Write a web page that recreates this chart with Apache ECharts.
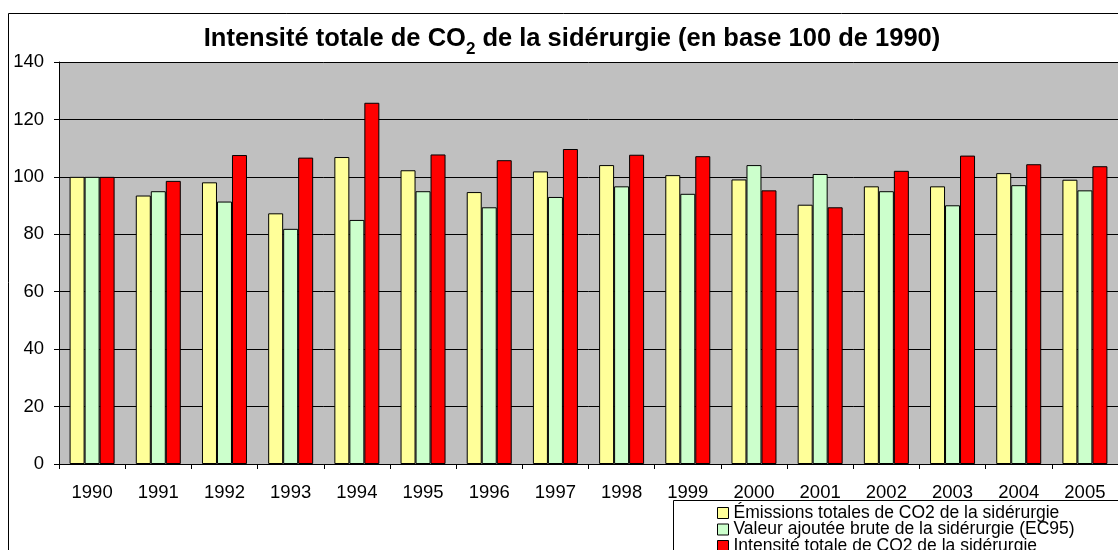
<!DOCTYPE html>
<html>
<head>
<meta charset="utf-8">
<script src="https://cdn.jsdelivr.net/npm/echarts@6/dist/echarts.min.js"></script>
<style>
html,body{margin:0;padding:0;background:#fff;}
#chart{width:1118px;height:550px;}
</style>
</head>
<body>
<div id="chart"></div>
<script>
var years = ['1990','1991','1992','1993','1994','1995','1996','1997','1998','1999','2000','2001','2002','2003','2004','2005'];
var emissions = [100, 93.5, 98.1, 87.3, 106.9, 102.3, 94.7, 101.9, 104.1, 100.6, 99.1, 90.3, 96.7, 96.7, 101.3, 99.0];
var valeurAjoutee = [100, 95.0, 91.4, 81.9, 85.0, 95.0, 89.4, 93.0, 96.7, 94.1, 104.1, 101.0, 95.0, 90.1, 97.1, 95.3];
var intensite = [100, 98.6, 107.6, 106.7, 125.8, 107.8, 105.8, 109.7, 107.7, 107.2, 95.3, 89.4, 102.1, 107.4, 104.4, 103.7];
var seriesNames = ['Émissions totales de CO2 de la sidérurgie', 'Valeur ajoutée brute de la sidérurgie (EC95)', 'Intensité totale de CO2 de la sidérurgie'];
var yTicks = {min: 0, max: 140, interval: 20};

var FONT = 'Arial, "Liberation Sans", sans-serif';
var chart = echarts.init(document.getElementById('chart'), null, {renderer: 'canvas'});
function bar(name, data, color) {
  return {
    name: name, type: 'bar', data: data, barWidth: 15, barGap: '0%',
    itemStyle: {color: color, borderColor: '#000', borderWidth: 1},
    emphasis: {disabled: true}, animation: false
  };
}
chart.setOption({
  backgroundColor: '#fff',
  animation: false,
  textStyle: {fontFamily: FONT},
  grid: {left: 59, top: 62, right: -13, bottom: 86, show: true, backgroundColor: '#C0C0C0', borderWidth: 0},
  xAxis: {
    type: 'category', data: years, boundaryGap: true,
    axisLine: {show: true, lineStyle: {color: '#000', width: 1}},
    axisTick: {show: true, length: 5, lineStyle: {color: '#000'}},
    axisLabel: {color: '#000', fontSize: 18.5, fontFamily: FONT, margin: 19, interval: 0}
  },
  yAxis: {
    type: 'value', min: yTicks.min, max: yTicks.max, interval: yTicks.interval,
    axisLine: {show: true, lineStyle: {color: '#000', width: 1}},
    axisTick: {show: true, length: 5, lineStyle: {color: '#000'}},
    axisLabel: {color: '#000', fontSize: 18.5, fontFamily: FONT, margin: 15},
    splitLine: {show: true, lineStyle: {color: '#000', width: 1}}
  },
  legend: {
    orient: 'vertical', left: 717, top: 504, height: 300, itemWidth: 11, itemHeight: 11, itemGap: -1.5,
    icon: 'rect', z: 5, padding: 0,
    itemStyle: {borderColor: '#000', borderWidth: 1},
    textStyle: {color: '#000', fontSize: 17.5, fontFamily: FONT, lineHeight: 15.5},
    selectedMode: false,
    data: seriesNames
  },
  graphic: [
    {type: 'rect', z: 0, silent: true, shape: {x: 8.5, y: 13.5, width: 1200, height: 600},
     style: {fill: null, stroke: '#000', lineWidth: 1}},
    {type: 'rect', z: 3, silent: true, shape: {x: 673.5, y: 500.5, width: 500, height: 100},
     style: {fill: '#fff', stroke: '#000', lineWidth: 1}},
    {type: 'text', z: 3, silent: true, x: 572, y: 39,
     style: {
       text: '{a|Intensité totale de CO}{s|2}{a| de la sidérurgie (en base 100 de 1990)}',
       align: 'center', verticalAlign: 'middle',
       rich: {
         a: {fontSize: 25.5, fontWeight: 'bold', fontFamily: FONT, fill: '#000', lineHeight: 27, verticalAlign: 'top'},
         s: {fontSize: 17, fontWeight: 'bold', fontFamily: FONT, fill: '#000', lineHeight: 17, verticalAlign: 'top', padding: [15, 0, 0, 0]}
       }
     }}
  ],
  series: [
    bar(seriesNames[0], emissions, '#FFFF99'),
    bar(seriesNames[1], valeurAjoutee, '#CCFFCC'),
    bar(seriesNames[2], intensite, '#FF0000')
  ]
});
</script>
</body>
</html>
